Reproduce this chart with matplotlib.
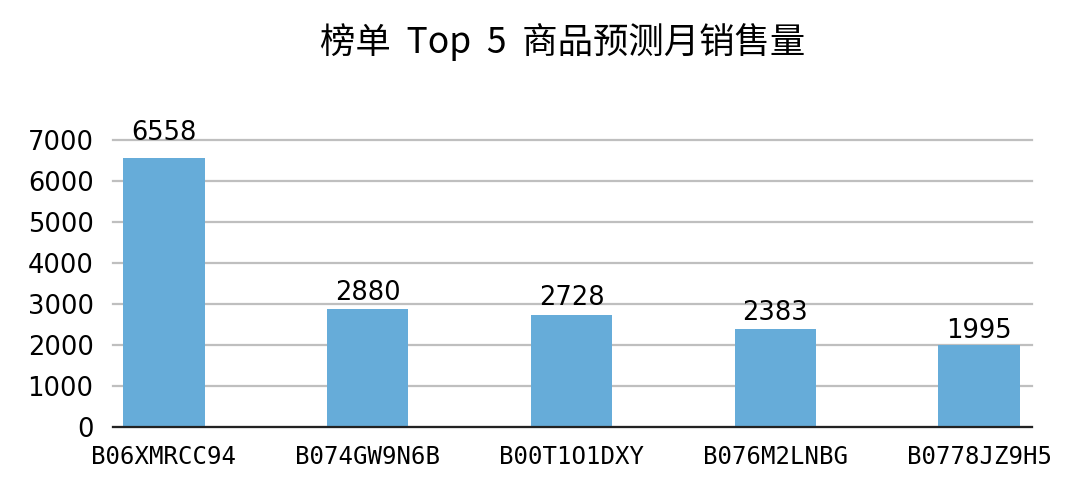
import matplotlib
matplotlib.use("Agg")
import matplotlib.pyplot as plt
from matplotlib.transforms import offset_copy

products = ["B06XMRCC94", "B074GW9N6B", "B00T1O1DXY", "B076M2LNBG", "B0778JZ9H5"]
sales = [6558, 2880, 2728, 2383, 1995]
title = "榜单  Top  5  商品预测月销售量"

label_gap_px = [18, 9, 10, 9, 7]

fig = plt.figure(figsize=(10.8, 4.9), dpi=100)
ax = fig.add_axes([0.1046, 0.1286, 0.851, 0.5857])
x = list(range(len(products)))
bars = ax.bar(x, sales, width=0.4, color="#66acd9", zorder=3)
ax.set_xlim(-0.25, 4.26)
ax.set_ylim(0, 7000)
ax.set_yticks(range(0, 7001, 1000))
ax.grid(axis="y", color="#bfbfbf", linewidth=1.6, zorder=0)
for gl in ax.get_ygridlines():
    gl.set_clip_on(False)
for s in ["left", "right", "top"]:
    ax.spines[s].set_visible(False)
ax.spines["bottom"].set_color("#222222")
ax.spines["bottom"].set_linewidth(1.6)
ax.spines["bottom"].set_zorder(4)
ax.tick_params(length=0)
ax.set_xticks(x)
ax.set_xticklabels(products, family="DejaVu Sans Mono", fontsize=17.3)
for lab in ax.get_yticklabels():
    lab.set_fontsize(18.5)
    lab.set_family("DejaVu Sans")
ax.tick_params(axis="y", pad=14)
ax.tick_params(axis="x", pad=13)
for xi, v, g in zip(x, sales, label_gap_px):
    tr = offset_copy(ax.transData, fig=fig, x=0, y=g, units="dots")
    ax.text(xi, v, str(v), ha="center", va="baseline", fontsize=18.5,
            family="DejaVu Sans", clip_on=False, transform=tr)
fig.text(0.521, 0.915, title, ha="center", va="center", fontsize=25.5,
         family=["Noto Sans CJK SC", "DejaVu Sans"])
fig.savefig("out.png", dpi=100)
